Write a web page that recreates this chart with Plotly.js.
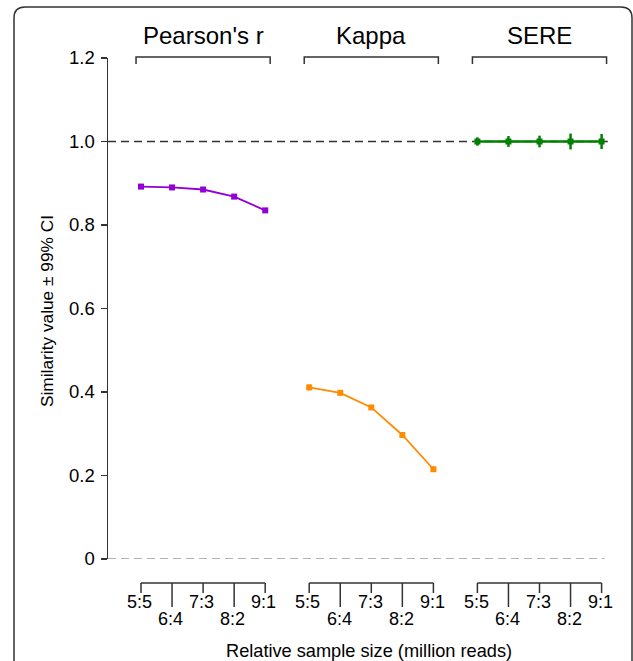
<!DOCTYPE html>
<html>
<head>
<meta charset="utf-8">
<script src="https://cdn.plot.ly/plotly-3.0.1.min.js"></script>
<style>html,body{margin:0;padding:0;background:#fff;}#chart{width:633px;height:661px;}</style>
</head>
<body>
<div id="chart"></div>
<script>
// ---- data ----
const categories = ['5:5', '6:4', '7:3', '8:2', '9:1'];
const groupNames = ["Pearson's r", 'Kappa', 'SERE'];
const pearson = [0.892, 0.890, 0.885, 0.868, 0.835];
const pearsonCI = [0.003, 0.003, 0.003, 0.003, 0.003];
const kappa = [0.411, 0.398, 0.363, 0.297, 0.215];
const kappaCI = [0.007, 0.005, 0.005, 0.006, 0.006];
const sere = [1.0, 1.0, 1.0, 1.0, 1.0];
const sereCI = [0.010, 0.013, 0.014, 0.019, 0.018];
const yTickVals = [0, 0.2, 0.4, 0.6, 0.8, 1.0, 1.2];
const yTickText = ['0', '0.2', '0.4', '0.6', '0.8', '1.0', '1.2'];
const xTitle = 'Relative sample size (million reads)';
const yTitle = 'Similarity value \u00b1 99% CI';

// ---- layout helpers ----
const W = 633, H = 661;
const GROUP_STEP = 5.417;
const PX0 = 141, PXU = 31.05;
const px = v => v / W;
const py = v => 1 - v / H;
const xpos = g => categories.map((c, i) => g * GROUP_STEP + i);
const FONT = 'Liberation Sans, Arial, sans-serif';
const AX = '#333333';

const series = [
  {y: pearson, ci: pearsonCI, color: '#9400D3', lw: 1.8},
  {y: kappa, ci: kappaCI, color: '#FF8C00', lw: 1.8},
  {y: sere, ci: sereCI, color: '#008000', lw: 2.6}
];

const traces = series.map((s, g) => ({
  type: 'scatter', mode: 'lines+markers', name: groupNames[g],
  x: xpos(g), y: s.y, cliponaxis: false,
  line: {color: s.color, width: s.lw},
  marker: {symbol: 'square', size: 6, color: s.color},
  error_y: {type: 'data', array: s.ci, visible: true, color: s.color, thickness: 2.5, width: 0}
}));

const xmin = (108 - PX0) / PXU, xmax = (W - PX0) / PXU;
const shapes = [];
const annotations = [];

// frame
shapes.push({type: 'path', xref: 'paper', yref: 'paper', layer: 'below',
  path: `M ${px(14)},${py(661)} L ${px(14)},${py(18)} Q ${px(14)},${py(7)} ${px(25)},${py(7)} L ${px(621)},${py(7)} Q ${px(632)},${py(7)} ${px(632)},${py(18)} L ${px(632)},${py(661)}`,
  line: {color: AX, width: 1.5}});

// reference lines
const lastX = xpos(2)[4];
shapes.push({type: 'line', xref: 'x', yref: 'y', x0: xmin, x1: lastX + 0.2, y0: 1, y1: 1, layer: 'below',
  line: {color: '#333333', width: 1.6, dash: '8px,5px'}});
shapes.push({type: 'line', xref: 'x', yref: 'y', x0: xmin, x1: lastX + 0.1, y0: 0, y1: 0, layer: 'below',
  line: {color: '#999999', width: 1.6, dash: '8px,5px'}});

groupNames.forEach((name, g) => {
  const xs = xpos(g);
  const a = xs[0] - 0.16, b = xs[4] + 0.16;
  // top bracket
  shapes.push({type: 'path', xref: 'x', yref: 'paper',
    path: `M ${a},${py(64)} L ${a},${py(57)} L ${b},${py(57)} L ${b},${py(64)}`,
    line: {color: AX, width: 1.5}});
  annotations.push({text: name, xref: 'x', yref: 'paper', x: (xs[0] + xs[4]) / 2, y: py(35.5),
    showarrow: false, xanchor: 'center', yanchor: 'middle', font: {family: FONT, size: 24, color: '#000'}});
  // bottom bracket axis
  shapes.push({type: 'line', xref: 'x', yref: 'paper', x0: xs[0], x1: xs[4], y0: py(583), y1: py(583),
    line: {color: AX, width: 1.5}});
  xs.forEach((x, i) => {
    const long = i % 2 === 1;
    shapes.push({type: 'line', xref: 'x', yref: 'paper', x0: x, x1: x, y0: py(583), y1: py(long ? 607 : 593),
      line: {color: AX, width: 1.5}});
    annotations.push({text: categories[i], xref: 'x', yref: 'paper', x: x - 0.04, y: py(long ? 619 : 602),
      showarrow: false, xanchor: 'center', yanchor: 'middle', font: {family: FONT, size: 18, color: '#000'}});
  });
});

annotations.push({text: xTitle, xref: 'paper', yref: 'paper', x: px(369), y: py(651), showarrow: false,
  xanchor: 'center', yanchor: 'middle', font: {family: FONT, size: 18.2, color: '#000'}});
annotations.push({text: yTitle, xref: 'paper', yref: 'paper', x: px(47), y: py(311), showarrow: false,
  textangle: -90, xanchor: 'center', yanchor: 'middle', font: {family: FONT, size: 17.3, color: '#000'}});

const layout = {
  width: W, height: H,
  margin: {l: 0, r: 0, t: 0, b: 0, pad: 0},
  paper_bgcolor: '#fff', plot_bgcolor: 'rgba(0,0,0,0)',
  showlegend: false,
  xaxis: {domain: [px(108), 1], range: [xmin, xmax], visible: false, fixedrange: true},
  yaxis: {domain: [py(559), py(58)], range: [0, 1.2], showline: true, linecolor: AX, linewidth: 1.5,
    ticks: 'outside', ticklen: 6, tickwidth: 1.5, tickcolor: AX, tickvals: yTickVals, ticktext: yTickText,
    showgrid: false, zeroline: false, ticklabelstandoff: 2,
    tickfont: {family: FONT, size: 18.5, color: '#000'}, fixedrange: true},
  shapes: shapes,
  annotations: annotations
};

Plotly.newPlot('chart', traces, layout, {displayModeBar: false, staticPlot: true});
</script>
</body>
</html>
